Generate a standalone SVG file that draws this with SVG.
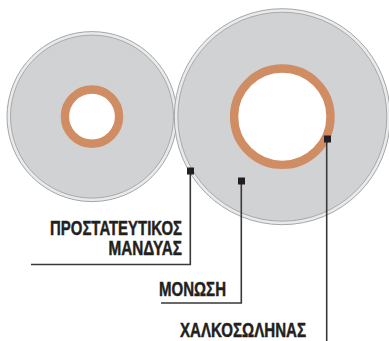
<svg xmlns="http://www.w3.org/2000/svg" width="389" height="341" viewBox="0 0 389 341">
<style>
.sheath{fill:#e9eaeb;stroke:#a4a6a8;stroke-width:1}
.ins{fill:#d1d2d4;stroke:#9a9c9e;stroke-width:.8}
.cu{fill:#fff;stroke:#d08d63;stroke-width:8.4}
.ln{fill:none;stroke:#3a3839;stroke-width:1.6}
.dot{fill:#231f20}
.t{font-family:"Liberation Sans Narrow","Liberation Sans",sans-serif;font-weight:700;font-size:19.500px;fill:#231f20;stroke:#231f20;stroke-width:.45}
</style>
<rect width="389" height="341" fill="#fff"/>
<g id="cable-small">
<circle class="sheath" cx="92" cy="116.6" r="85"/>
<circle class="ins" cx="92" cy="116.6" r="81.5"/>
<circle class="cu" cx="92" cy="116.6" r="27.1"/>
</g>
<g id="cable-large">
<circle class="sheath" cx="282.3" cy="116.7" r="108"/>
<circle class="ins" cx="282.3" cy="116.7" r="104.5"/>
<circle class="cu" cx="282.3" cy="116.7" r="48.2"/>
</g>
<g id="connectors">
<path class="ln" d="M190.3 171V264.5H31"/>
<path class="ln" d="M241.3 181V303H161"/>
<path class="ln" d="M326.7 139V341"/>
<rect class="dot" x="187" y="167.5" width="7" height="7"/>
<rect class="dot" x="238" y="177.5" width="7" height="7"/>
<rect class="dot" x="324" y="135.5" width="7" height="7"/>
</g>
<g id="label-sheath">
<text class="t" x="50" y="235" textLength="132" lengthAdjust="spacingAndGlyphs">ΠΡΟΣΤΑΤΕΥΤΙΚΟΣ</text>
<text class="t" x="108.500" y="255" textLength="73.500" lengthAdjust="spacingAndGlyphs">ΜΑΝΔΥΑΣ</text>
</g>
<g id="label-insulation">
<text class="t" x="159" y="296" textLength="67" lengthAdjust="spacingAndGlyphs">ΜΟΝΩΣΗ</text>
</g>
<g id="label-copper">
<text class="t" x="180" y="337" textLength="126" lengthAdjust="spacingAndGlyphs">ΧΑΛΚΟΣΩΛΗΝΑΣ</text>
</g>
</svg>
